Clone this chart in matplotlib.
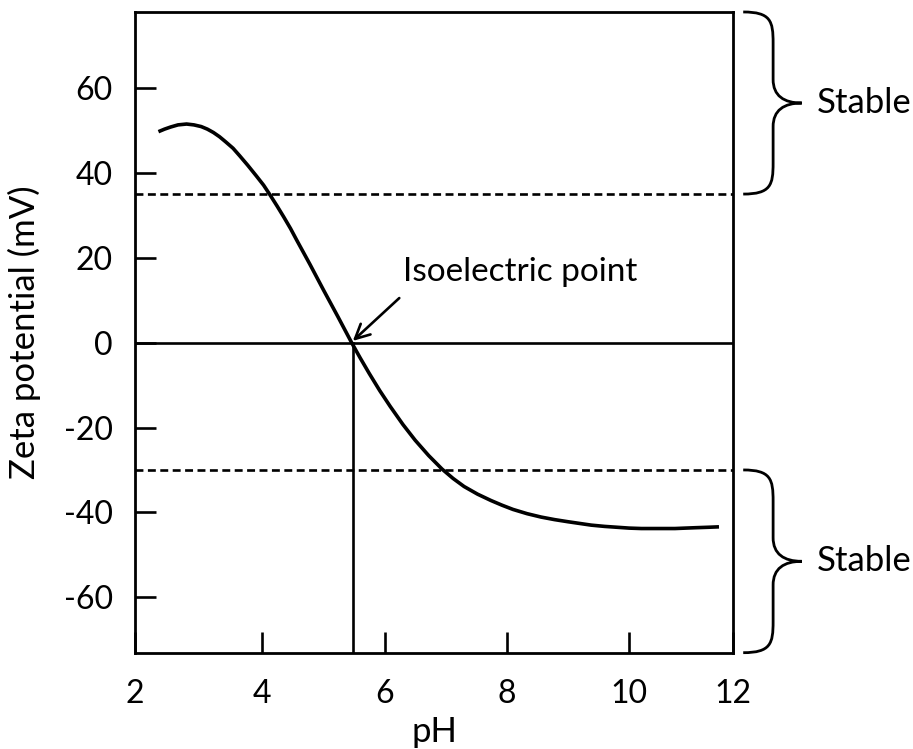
import numpy as np
import matplotlib.pyplot as plt
from matplotlib.path import Path
from matplotlib.patches import PathPatch
from matplotlib.transforms import blended_transform_factory

plt.rcParams['font.family'] = ['Lato', 'DejaVu Sans']

# Zeta potential vs pH curve
ph = [2.30, 2.40, 2.50, 2.62, 2.76, 2.88, 3.00, 3.10, 3.20, 3.30, 3.40, 3.52,
      3.63, 3.76, 3.90, 4.02, 4.13, 4.24, 4.35, 4.46, 4.56, 4.67, 4.78, 4.89,
      5.00, 5.12, 5.24, 5.35, 5.46, 5.60, 5.75, 5.92, 6.09, 6.30, 6.50, 6.72,
      6.94, 7.12, 7.30, 7.52, 7.74, 7.92, 8.10, 8.33, 8.56, 8.78, 9.00, 9.19,
      9.38, 9.60, 9.80, 10.00, 10.20, 10.48, 10.75, 10.92, 11.10, 11.30, 11.47]
zeta = [49.7, 50.3, 50.8, 51.3, 51.5, 51.3, 50.9, 50.3, 49.5, 48.5, 47.3, 45.8,
        44.0, 41.8, 39.3, 37.1, 34.7, 32.2, 29.6, 26.9, 24.2, 21.3, 18.4, 15.4,
        12.4, 9.2, 6.0, 3.0, 0.0, -3.6, -7.3, -11.3, -15.0, -19.3, -23.0, -26.6,
        -29.8, -32.0, -33.9, -35.7, -37.2, -38.3, -39.3, -40.3, -41.1, -41.7, -42.2, -42.6,
        -43.0, -43.3, -43.5, -43.7, -43.8, -43.8, -43.8, -43.7, -43.6, -43.5, -43.4]

iep = 5.48             # isoelectric point
stable_hi = 35.0       # upper stability threshold (mV)
stable_lo = -30.0      # lower stability threshold (mV)

x_lo, x_hi = 1.917, 11.70
y_lo, y_hi = -73.05, 77.9
xtick_pos = [x_lo, 4, 6, 8, 10, x_hi]
xtick_lab = ['2', '4', '6', '8', '10', '12']
ytick_pos = [60, 40, 20, 0, -20, -40, -60]

fig = plt.figure(figsize=(9.13, 7.49), dpi=100)
ax = fig.add_axes([0.1479, 0.1286, 0.6550, 0.8554])

ax.plot(ph, zeta, color='black', lw=2.6, solid_capstyle='butt',
        solid_joinstyle='round')
ax.axhline(0, color='black', lw=1.9)
ax.axhline(stable_hi, color='black', lw=1.9, ls=(0, (3.0, 1.7)))
ax.axhline(stable_lo, color='black', lw=1.9, ls=(0, (3.0, 1.7)))
ax.plot([iep, iep], [y_lo, 0], color='black', lw=1.9)

ax.annotate('', xy=(iep, 0.4), xytext=(6.24, 10.5),
            arrowprops=dict(arrowstyle='->', color='black', lw=1.9,
                            mutation_scale=26, shrinkA=0, shrinkB=0))
ax.text(6.30, 14.5, 'Isoelectric point', fontsize=24, ha='left', va='baseline')

ax.set_xlim(x_lo, x_hi)
ax.set_ylim(y_lo, y_hi)
ax.set_xticks(xtick_pos)
ax.set_xticklabels(xtick_lab)
ax.set_yticks(ytick_pos)
ax.set_yticklabels([str(v) for v in ytick_pos])
ax.tick_params(direction='in', length=15, width=1.9, labelsize=23)
ax.tick_params(axis='x', pad=19)
ax.tick_params(axis='y', pad=16)
for s in ax.spines.values():
    s.set_linewidth(2.0)

ax.set_xlabel('pH', fontsize=25, labelpad=5)
ax.set_ylabel('Zeta potential (mV)', fontsize=25, labelpad=16)

# curly braces marking the stable regions
trans = blended_transform_factory(ax.transAxes, ax.transData)


def brace(y_top, y_bot):
    h = y_top - y_bot
    xa, xm, xt = 1.017, 1.067, 1.115
    ym = (y_top + y_bot) / 2
    e = 0.17 * h
    c = 0.13 * h
    verts = [(xa, y_top),
             (xm - 0.004, y_top), (xm, y_top - 0.05 * h), (xm, y_top - e),
             (xm, ym + c),
             (xm, ym + 0.04 * h), (xt - 0.03, ym), (xt, ym),
             (xt - 0.03, ym), (xm, ym - 0.04 * h), (xm, ym - c),
             (xm, y_bot + e),
             (xm, y_bot + 0.05 * h), (xm - 0.004, y_bot), (xa, y_bot)]
    codes = [Path.MOVETO,
             Path.CURVE4, Path.CURVE4, Path.CURVE4,
             Path.LINETO,
             Path.CURVE4, Path.CURVE4, Path.CURVE4,
             Path.CURVE4, Path.CURVE4, Path.CURVE4,
             Path.LINETO,
             Path.CURVE4, Path.CURVE4, Path.CURVE4]
    ax.add_patch(PathPatch(Path(verts, codes), fill=False, lw=2.0,
                           color='black', transform=trans, clip_on=False))
    ax.text(1.14, ym, 'Stable', fontsize=25, ha='left', va='center',
            transform=trans)


brace(y_hi, stable_hi)
brace(stable_lo, y_lo)

fig.savefig('out.png', dpi=100)
